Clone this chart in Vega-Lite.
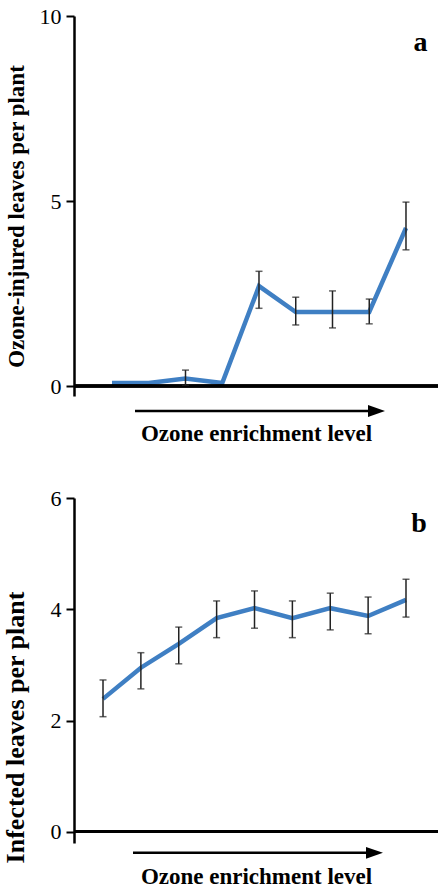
{
  "$schema": "https://vega.github.io/schema/vega-lite/v6.json",
  "background": "white",
  "autosize": {"type": "pad"},
  "padding": {"left": 2, "top": 5, "right": 0, "bottom": 0},
  "bounds": "flush",
  "spacing": 102,
  "config": {
    "font": "Liberation Serif",
    "view": {"stroke": null},
    "axis": {"domainColor": "black", "tickColor": "black", "labelColor": "black", "titleColor": "black", "grid": false, "labelFont": "Liberation Serif", "titleFont": "Liberation Serif"}
  },
  "vconcat": [
    {
      "width": 364,
      "height": 380,
      "data": {"values": [
        {"i": 1, "v": 0.08, "lo": null, "hi": null},
        {"i": 2, "v": 0.08, "lo": null, "hi": null},
        {"i": 3, "v": 0.2, "lo": 0.02, "hi": 0.43},
        {"i": 4, "v": 0.08, "lo": null, "hi": null},
        {"i": 5, "v": 2.7, "lo": 2.1, "hi": 3.1},
        {"i": 6, "v": 2.0, "lo": 1.65, "hi": 2.4},
        {"i": 7, "v": 2.0, "lo": 1.57, "hi": 2.57},
        {"i": 8, "v": 2.0, "lo": 1.68, "hi": 2.35},
        {"i": 9, "v": 4.27, "lo": 3.68, "hi": 4.97}
      ]},
      "layer": [
        {
          "mark": {"type": "line", "color": "#3f7fc3", "strokeWidth": 4.5, "strokeJoin": "miter"},
          "encoding": {
            "x": {"field": "i", "type": "quantitative", "scale": {"domain": [-0.034, 9.871], "nice": false, "zero": false},
              "axis": {"domain": false, "ticks": false, "labels": false, "grid": false, "title": "Ozone enrichment level", "titleFont": "Liberation Serif", "titleFontSize": 23, "titleFontWeight": "bold", "titlePadding": 26}},
            "y": {"field": "v", "type": "quantitative", "scale": {"domain": [-0.27, 10], "nice": false, "zero": false},
              "axis": {"values": [0, 5, 10], "format": "d", "tickSize": 8, "tickWidth": 2, "domainWidth": 2.5, "labelFont": "Liberation Serif", "labelFontSize": 22, "labelPadding": 5,
                "title": "Ozone-injured leaves per plant", "titleFont": "Liberation Serif", "titleFontSize": 23, "titleFontWeight": "bold", "titleX": -51, "titleY": 200, "titleBaseline": "alphabetic", "titleAngle": -90, "titleAlign": "center"}}
          }
        },
        {
          "mark": {"type": "rule", "color": "black", "strokeWidth": 2.5},
          "encoding": {"y": {"datum": 0, "type": "quantitative"}}
        },
        {
          "mark": {"type": "rule", "color": "#222222", "strokeWidth": 1.5},
          "encoding": {"x": {"field": "i", "type": "quantitative"}, "y": {"field": "lo", "type": "quantitative"}, "y2": {"field": "hi"}}
        },
        {
          "mark": {"type": "tick", "orient": "horizontal", "color": "#222222", "size": 7, "thickness": 1.5},
          "encoding": {"x": {"field": "i", "type": "quantitative"}, "y": {"field": "lo", "type": "quantitative"}}
        },
        {
          "mark": {"type": "tick", "orient": "horizontal", "color": "#222222", "size": 7, "thickness": 1.5},
          "encoding": {"x": {"field": "i", "type": "quantitative"}, "y": {"field": "hi", "type": "quantitative"}}
        },
        {
          "data": {"values": [{"x1": 1.626, "x2": 8.2, "y": -0.676, "tip": 8.429}]},
          "layer": [
            {"mark": {"type": "rule", "color": "black", "strokeWidth": 2.5},
             "encoding": {"x": {"field": "x1", "type": "quantitative"}, "x2": {"field": "x2"}, "y": {"field": "y", "type": "quantitative"}}},
            {"mark": {"type": "point", "shape": "M -2 -0.7 L 0 0 L -2 0.7 Z", "filled": true, "color": "black", "opacity": 1, "size": 289},
             "encoding": {"x": {"field": "tip", "type": "quantitative"}, "y": {"field": "y", "type": "quantitative"}}}
          ]
        },
        {
          "data": {"values": [{"x": 9.395, "y": 9.05, "t": "a"}]},
          "mark": {"type": "text", "font": "Liberation Serif", "fontSize": 28, "fontWeight": "bold", "align": "center", "baseline": "alphabetic", "color": "black"},
          "encoding": {"x": {"field": "x", "type": "quantitative"}, "y": {"field": "y", "type": "quantitative"}, "text": {"field": "t"}}
        }
      ]
    },
    {
      "width": 364,
      "height": 345,
      "data": {"values": [
        {"i": 1, "v": 2.39, "lo": 2.07, "hi": 2.73},
        {"i": 2, "v": 2.95, "lo": 2.57, "hi": 3.22},
        {"i": 3, "v": 3.38, "lo": 3.02, "hi": 3.68},
        {"i": 4, "v": 3.84, "lo": 3.49, "hi": 4.15},
        {"i": 5, "v": 4.02, "lo": 3.66, "hi": 4.33},
        {"i": 6, "v": 3.84, "lo": 3.49, "hi": 4.15},
        {"i": 7, "v": 4.02, "lo": 3.63, "hi": 4.29},
        {"i": 8, "v": 3.88, "lo": 3.56, "hi": 4.22},
        {"i": 9, "v": 4.17, "lo": 3.86, "hi": 4.54}
      ]},
      "layer": [
        {
          "mark": {"type": "line", "color": "#3f7fc3", "strokeWidth": 4.5, "strokeJoin": "miter"},
          "encoding": {
            "x": {"field": "i", "type": "quantitative", "scale": {"domain": [0.234, 9.845], "nice": false, "zero": false},
              "axis": {"domain": false, "ticks": false, "labels": false, "grid": false, "title": "Ozone enrichment level", "titleFont": "Liberation Serif", "titleFontSize": 23, "titleFontWeight": "bold", "titlePadding": 22}},
            "y": {"field": "v", "type": "quantitative", "scale": {"domain": [-0.2, 6], "nice": false, "zero": false},
              "axis": {"values": [0, 2, 4, 6], "format": "d", "tickSize": 8, "tickWidth": 2, "domainWidth": 2.5, "labelFont": "Liberation Serif", "labelFontSize": 22, "labelPadding": 5,
                "title": "Infected leaves per plant", "titleFont": "Liberation Serif", "titleFontSize": 26, "titleFontWeight": "bold", "titleX": -51, "titleY": 229, "titleBaseline": "alphabetic", "titleAngle": -90, "titleAlign": "center"}}
          }
        },
        {
          "mark": {"type": "rule", "color": "black", "strokeWidth": 2.5},
          "encoding": {"y": {"datum": 0, "type": "quantitative"}}
        },
        {
          "mark": {"type": "rule", "color": "#222222", "strokeWidth": 1.5},
          "encoding": {"x": {"field": "i", "type": "quantitative"}, "y": {"field": "lo", "type": "quantitative"}, "y2": {"field": "hi"}}
        },
        {
          "mark": {"type": "tick", "orient": "horizontal", "color": "#222222", "size": 7, "thickness": 1.5},
          "encoding": {"x": {"field": "i", "type": "quantitative"}, "y": {"field": "lo", "type": "quantitative"}}
        },
        {
          "mark": {"type": "tick", "orient": "horizontal", "color": "#222222", "size": 7, "thickness": 1.5},
          "encoding": {"x": {"field": "i", "type": "quantitative"}, "y": {"field": "hi", "type": "quantitative"}}
        },
        {
          "data": {"values": [{"x1": 1.792, "x2": 8.17, "y": -0.377, "tip": 8.392}]},
          "layer": [
            {"mark": {"type": "rule", "color": "black", "strokeWidth": 2.5},
             "encoding": {"x": {"field": "x1", "type": "quantitative"}, "x2": {"field": "x2"}, "y": {"field": "y", "type": "quantitative"}}},
            {"mark": {"type": "point", "shape": "M -2 -0.7 L 0 0 L -2 0.7 Z", "filled": true, "color": "black", "opacity": 1, "size": 289},
             "encoding": {"x": {"field": "tip", "type": "quantitative"}, "y": {"field": "y", "type": "quantitative"}}}
          ]
        },
        {
          "data": {"values": [{"x": 9.343, "y": 5.39, "t": "b"}]},
          "mark": {"type": "text", "font": "Liberation Serif", "fontSize": 28, "fontWeight": "bold", "align": "center", "baseline": "alphabetic", "color": "black"},
          "encoding": {"x": {"field": "x", "type": "quantitative"}, "y": {"field": "y", "type": "quantitative"}, "text": {"field": "t"}}
        }
      ]
    }
  ]
}
